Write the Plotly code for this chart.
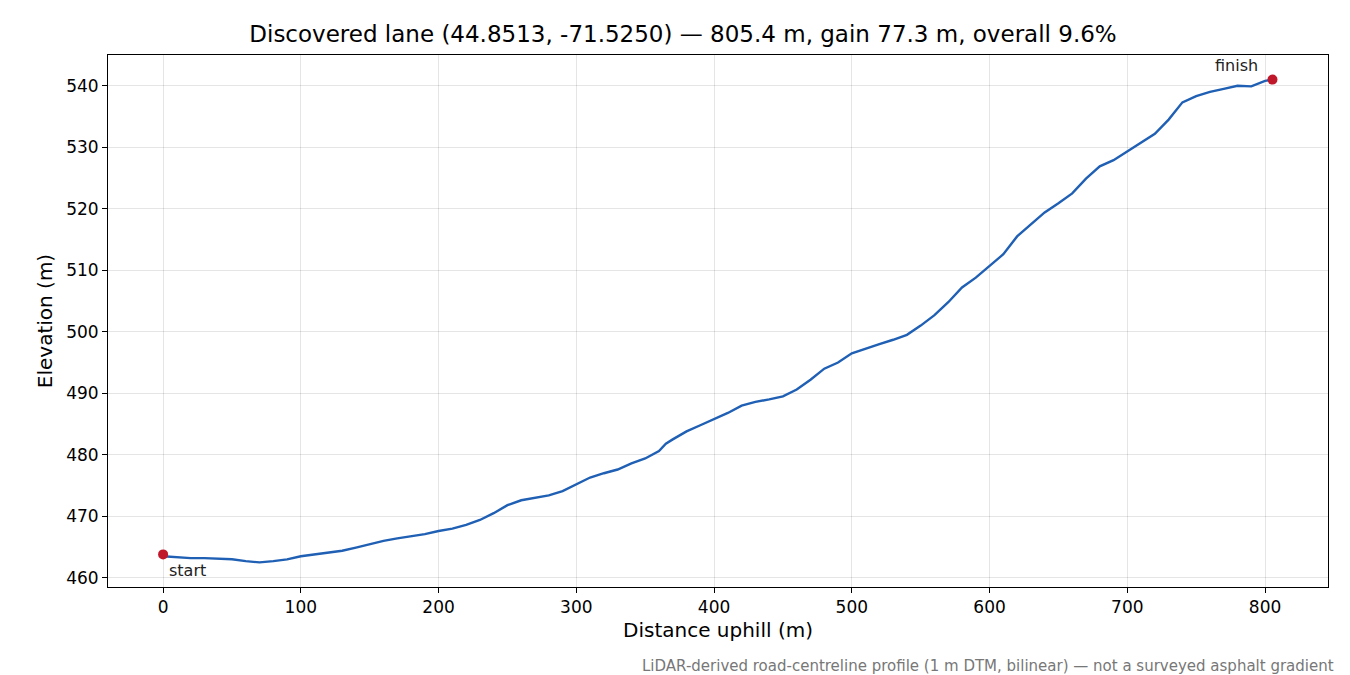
import plotly.graph_objects as go

dist = [0,10,20,30,40,50,60,70,80,90,100,110,120,130,140,150,160,170,180,190,200,210,220,230,240,250,260,270,280,290,300,310,320,330,340,350,360,365,370,380,390,400,410,420,430,440,450,460,470,480,490,500,510,520,530,540,550,560,570,580,590,600,610,620,630,640,650,660,670,680,690,700,710,720,730,740,750,760,770,780,790,800,805.4]
elev = [463.5,463.3,463.2,463.2,463.1,463.0,462.7,462.5,462.7,463.0,463.5,463.8,464.1,464.4,464.9,465.5,466.0,466.4,466.7,467.1,467.6,468.0,468.6,469.4,470.5,471.8,472.6,473.0,473.4,474.1,475.2,476.3,477.0,477.6,478.6,479.4,480.6,481.8,482.5,483.8,484.8,485.8,486.8,488.0,488.6,489.0,489.5,490.6,492.2,494.0,495.0,496.5,497.3,498.0,498.7,499.5,501.0,502.7,504.8,507.2,508.8,510.7,512.6,515.5,517.4,519.4,520.9,522.5,524.9,526.9,527.9,529.3,530.7,532.2,534.5,537.3,538.3,539.0,539.5,540.0,539.9,540.8,541.0]
end_x = [0, 805.4]
end_y = [463.8, 541.0]
end_labels = ["start", "finish"]

fig = go.Figure()
fig.add_trace(go.Scatter(x=dist, y=elev, mode="lines", line=dict(color="#1f5fb4", width=2.4), showlegend=False))
fig.add_trace(go.Scatter(x=end_x, y=end_y, mode="markers", marker=dict(color="#c0182a", size=10), showlegend=False))
fig.add_annotation(x=end_x[0], y=end_y[0], text=end_labels[0], showarrow=False, xanchor="left", yanchor="top", xshift=4, yshift=-5, font=dict(size=16, color="#222"))
fig.add_annotation(x=end_x[1], y=end_y[1], text=end_labels[1], showarrow=False, xanchor="right", yanchor="bottom", xshift=-12, yshift=3, font=dict(size=16, color="#222"))

ax = dict(showline=True, linecolor="black", mirror=True, ticks="outside", ticklen=5, tickcolor="black",
          gridcolor="rgba(0,0,0,0.1)", zeroline=False, tickfont=dict(size=17, color="black"))
fig.update_layout(
    width=1350, height=675, paper_bgcolor="white", plot_bgcolor="white",
    font=dict(family="DejaVu Sans", color="black"),
    margin=dict(l=100, r=30, t=47, b=96),
    title=dict(text="Discovered lane (44.8513, -71.5250) — 805.4 m, gain 77.3 m, overall 9.6%", x=0.5, xanchor="center", y=0.962, yanchor="middle", font=dict(size=23)),
    xaxis=dict(ax, range=[-40, 845.7], tickvals=[0,100,200,300,400,500,600,700,800], title=dict(text="Distance uphill (m)", font=dict(size=20), standoff=6)),
    yaxis=dict(ax, range=[458.5, 545.0], tickvals=[460,470,480,490,500,510,520,530,540], title=dict(text="Elevation (m)", font=dict(size=20), standoff=8)),
)
fig.add_annotation(xref="paper", yref="paper", x=1.0066, y=-0.128, xanchor="right", yanchor="top", showarrow=False,
                   text="LiDAR-derived road-centreline profile (1 m DTM, bilinear) — not a surveyed asphalt gradient",
                   font=dict(size=15, color="#777"))
fig.write_html("out.html")
